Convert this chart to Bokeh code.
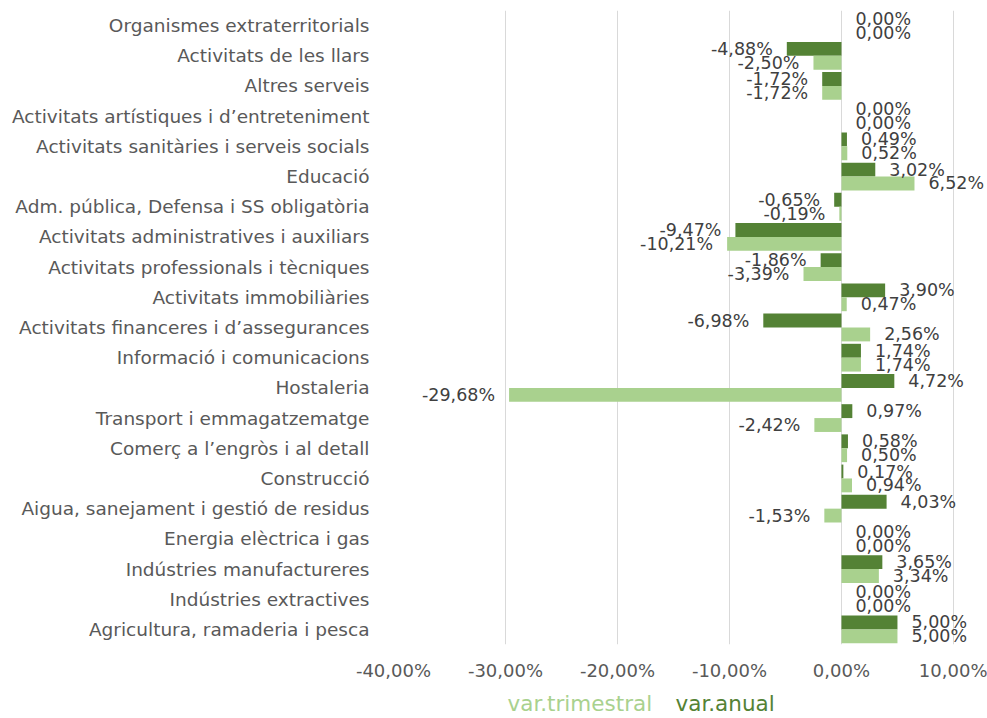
from bokeh.plotting import figure
from bokeh.models import ColumnDataSource, FactorRange, FixedTicker, Range1d
from bokeh.layouts import column
from bokeh.transform import dodge
from bokeh.core.properties import value
from bokeh.embed import file_html
from bokeh.resources import INLINE

categories = [
    "Organismes extraterritorials",
    "Activitats de les llars",
    "Altres serveis",
    "Activitats artístiques i d’entreteniment",
    "Activitats sanitàries i serveis socials",
    "Educació",
    "Adm. pública, Defensa i SS obligatòria",
    "Activitats administratives i auxiliars",
    "Activitats professionals i tècniques",
    "Activitats immobiliàries",
    "Activitats financeres i d’assegurances",
    "Informació i comunicacions",
    "Hostaleria",
    "Transport i emmagatzematge",
    "Comerç a l’engròs i al detall",
    "Construcció",
    "Aigua, sanejament i gestió de residus",
    "Energia elèctrica i gas",
    "Indústries manufactureres",
    "Indústries extractives",
    "Agricultura, ramaderia i pesca",
]
var_anual = [0.00, -4.88, -1.72, 0.00, 0.49, 3.02, -0.65, -9.47, -1.86, 3.90, -6.98,
             1.74, 4.72, 0.97, 0.58, 0.17, 4.03, 0.00, 3.65, 0.00, 5.00]
var_trimestral = [0.00, -2.50, -1.72, 0.00, 0.52, 6.52, -0.19, -10.21, -3.39, 0.47, 2.56,
                  1.74, -29.68, -2.42, 0.50, 0.94, -1.53, 0.00, 3.34, 0.00, 5.00]
x_ticks = [-40, -30, -20, -10, 0, 10]
series_names = ["var.trimestral", "var.anual"]

DARK = "#548235"
LIGHT = "#a9d18e"
FONT = "DejaVu Sans"

def fmt(v):
    return f"{v:.2f}%".replace(".", ",")

W = 987
LEFT = 393
p = figure(
    width=W, height=684,
    y_range=FactorRange(factors=list(reversed(categories)), range_padding=0),
    x_range=Range1d(-40, 13.04),
    output_backend="svg", toolbar_location=None,
    min_border_left=LEFT, min_border_right=0, min_border_top=10, min_border_bottom=40,
)
p.outline_line_color = None

src = ColumnDataSource(dict(cat=categories, anual=var_anual, trim=var_trimestral))

p.hbar(y=dodge("cat", 0.23, range=p.y_range), right="anual", left=0, height=0.46,
       source=src, fill_color=DARK, line_color=None)
p.hbar(y=dodge("cat", -0.23, range=p.y_range), right="trim", left=0, height=0.46,
       source=src, fill_color=LIGHT, line_color=None)

def labels(vals, off):
    pos = dict(cat=[], v=[], t=[])
    neg = dict(cat=[], v=[], t=[])
    for c, v in zip(categories, vals):
        d = pos if v >= 0 else neg
        d["cat"].append(c); d["v"].append(v); d["t"].append(fmt(v))
    for d, align, xo in ((pos, "left", 14), (neg, "right", -14)):
        s = ColumnDataSource(d)
        p.text(x="v", y=dodge("cat", off, range=p.y_range), text="t", source=s,
               text_align=align, text_baseline="middle", x_offset=xo,
               text_font=value(FONT), text_font_size="17.5px", text_color="#404040")

labels(var_anual, 0.23)
labels(var_trimestral, -0.23)

p.xaxis.ticker = FixedTicker(ticks=x_ticks)
p.xaxis.major_label_overrides = {t: fmt(t) for t in x_ticks}
p.xaxis.axis_line_color = None
p.xaxis.major_tick_line_color = None
p.xaxis.minor_tick_line_color = None
p.xaxis.major_label_standoff = 9
p.xaxis.major_label_text_font = FONT
p.xaxis.major_label_text_font_size = "18px"
p.xaxis.major_label_text_color = "#595959"

p.yaxis.axis_line_color = None
p.yaxis.major_tick_line_color = None
p.yaxis.minor_tick_line_color = None
p.yaxis.major_label_standoff = 18
p.yaxis.major_label_text_font = FONT
p.yaxis.major_label_text_font_size = "18.5px"
p.yaxis.major_label_text_color = "#595959"

p.ygrid.grid_line_color = None
p.xgrid.grid_line_color = "#d9d9d9"
p.xgrid.ticker = FixedTicker(ticks=x_ticks)

# legend strip (coloured text only); frame aligned with main plot, x in page pixels
lg = figure(width=W, height=34, x_range=Range1d(LEFT, W), y_range=Range1d(0, 34),
            output_backend="svg", toolbar_location=None,
            min_border_left=LEFT, min_border_right=0, min_border_top=0, min_border_bottom=0)
lg.axis.visible = False
lg.grid.grid_line_color = None
lg.outline_line_color = None
lsrc = ColumnDataSource(dict(x=[507, 675], y=[15, 15], t=series_names, c=[LIGHT, DARK]))
lg.text(x="x", y="y", text="t", text_color="c", source=lsrc, text_align="left",
        text_baseline="middle", text_font=value(FONT), text_font_size="21.5px")

layout = column(p, lg, spacing=0)
open("out.html", "w").write(file_html(layout, INLINE))
